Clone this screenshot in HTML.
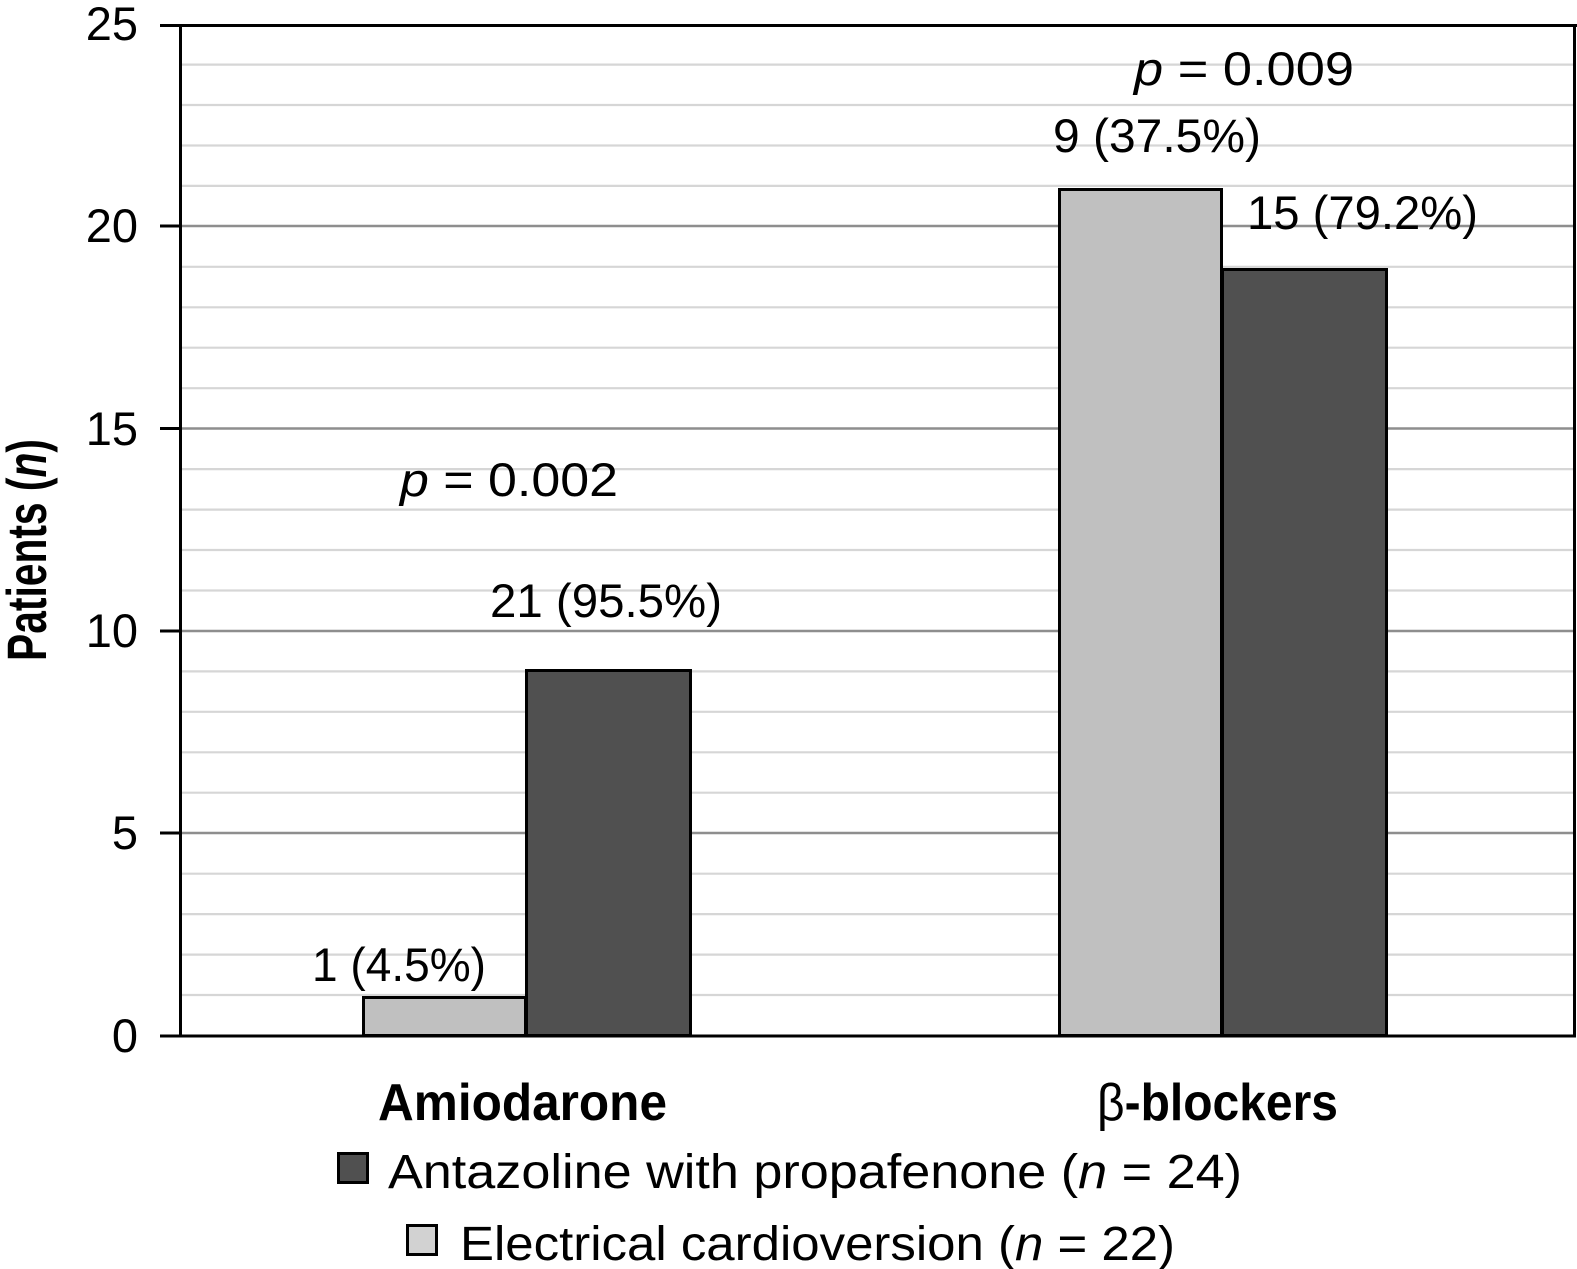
<!DOCTYPE html>
<html>
<head>
<meta charset="utf-8">
<style>
  html, body { margin: 0; padding: 0; background: #ffffff; }
  svg { display: block; }
  text { font-family: "Liberation Sans", "DejaVu Sans", sans-serif; fill: #000; }
</style>
</head>
<body>
<svg width="1577" height="1269" viewBox="0 0 1577 1269" xmlns="http://www.w3.org/2000/svg">
  <rect x="0" y="0" width="1577" height="1269" fill="#ffffff"/>

  <!-- minor gridlines (every 1 unit), y = 1035.5 - 40.46*v -->
  <g stroke="#d6d6d6" stroke-width="2.2">
    <line x1="181" x2="1573" y1="995.0" y2="995.0"/>
    <line x1="181" x2="1573" y1="954.6" y2="954.6"/>
    <line x1="181" x2="1573" y1="914.1" y2="914.1"/>
    <line x1="181" x2="1573" y1="873.7" y2="873.7"/>
    <line x1="181" x2="1573" y1="792.7" y2="792.7"/>
    <line x1="181" x2="1573" y1="752.3" y2="752.3"/>
    <line x1="181" x2="1573" y1="711.8" y2="711.8"/>
    <line x1="181" x2="1573" y1="671.4" y2="671.4"/>
    <line x1="181" x2="1573" y1="590.5" y2="590.5"/>
    <line x1="181" x2="1573" y1="550.0" y2="550.0"/>
    <line x1="181" x2="1573" y1="509.6" y2="509.6"/>
    <line x1="181" x2="1573" y1="469.1" y2="469.1"/>
    <line x1="181" x2="1573" y1="388.2" y2="388.2"/>
    <line x1="181" x2="1573" y1="347.7" y2="347.7"/>
    <line x1="181" x2="1573" y1="307.3" y2="307.3"/>
    <line x1="181" x2="1573" y1="266.8" y2="266.8"/>
    <line x1="181" x2="1573" y1="185.9" y2="185.9"/>
    <line x1="181" x2="1573" y1="145.5" y2="145.5"/>
    <line x1="181" x2="1573" y1="105.0" y2="105.0"/>
    <line x1="181" x2="1573" y1="64.6" y2="64.6"/>
  </g>
  <!-- major gridlines -->
  <g stroke="#8e8e8e" stroke-width="2.4">
    <line x1="181" x2="1573" y1="833" y2="833"/>
    <line x1="181" x2="1573" y1="631" y2="631"/>
    <line x1="181" x2="1573" y1="428.5" y2="428.5"/>
    <line x1="181" x2="1573" y1="226" y2="226"/>
  </g>

  <!-- bars -->
  <g stroke="#000" stroke-width="3">
    <rect x="363.5" y="997.5" width="162" height="38" fill="#c0c0c0"/>
    <rect x="526.5" y="670.5" width="164" height="365" fill="#505050"/>
    <rect x="1059.5" y="189.5" width="162" height="846" fill="#c0c0c0"/>
    <rect x="1222.5" y="269.5" width="164" height="766" fill="#505050"/>
  </g>

  <!-- axes / frame -->
  <g stroke="#000" stroke-width="3" fill="none">
    <line x1="160" x2="1577" y1="25.5" y2="25.5"/>
    <line x1="1574.5" x2="1574.5" y1="24" y2="1037"/>
    <line x1="180.5" x2="180.5" y1="24" y2="1037.5"/>
    <line x1="160" x2="1576" y1="1036" y2="1036"/>
    <line x1="160" x2="181" y1="833" y2="833"/>
    <line x1="160" x2="181" y1="631" y2="631"/>
    <line x1="160" x2="181" y1="428.5" y2="428.5"/>
    <line x1="160" x2="181" y1="226" y2="226"/>
  </g>

  <!-- tick labels -->
  <g font-size="47" text-anchor="end">
    <text x="138" y="40">25</text>
    <text x="138" y="242">20</text>
    <text x="138" y="445">15</text>
    <text x="138" y="647">10</text>
    <text x="138" y="849">5</text>
    <text x="138" y="1052">0</text>
  </g>

  <!-- y-axis title -->
  <text transform="translate(46,661) rotate(-90)" font-size="56" font-weight="bold" textLength="222" lengthAdjust="spacingAndGlyphs">Patients (<tspan font-style="italic">n</tspan>)</text>

  <!-- annotations -->
  <g font-size="47">
    <text x="1134" y="85" textLength="220" lengthAdjust="spacingAndGlyphs"><tspan font-style="italic">p</tspan> = 0.009</text>
    <text x="1053" y="152" textLength="208" lengthAdjust="spacingAndGlyphs">9 (37.5%)</text>
    <text x="1247" y="229" textLength="231" lengthAdjust="spacingAndGlyphs">15 (79.2%)</text>
    <text x="400" y="496" textLength="218" lengthAdjust="spacingAndGlyphs"><tspan font-style="italic">p</tspan> = 0.002</text>
    <text x="490" y="617" textLength="232" lengthAdjust="spacingAndGlyphs">21 (95.5%)</text>
    <text x="312" y="981" textLength="174" lengthAdjust="spacingAndGlyphs">1 (4.5%)</text>
  </g>

  <!-- category labels -->
  <g font-size="52" font-weight="bold">
    <text x="378" y="1120" textLength="289" lengthAdjust="spacingAndGlyphs">Amiodarone</text>
    <text x="1097" y="1120" textLength="241" lengthAdjust="spacingAndGlyphs"><tspan font-weight="normal">β</tspan>-blockers</text>
  </g>

  <!-- legend -->
  <rect x="338.5" y="1153.5" width="29" height="29" fill="#505050" stroke="#000" stroke-width="3"/>
  <text x="388" y="1188" font-size="48" textLength="854" lengthAdjust="spacingAndGlyphs">Antazoline with propafenone (<tspan font-style="italic">n</tspan> = 24)</text>
  <rect x="407.5" y="1225.5" width="29" height="29" fill="#d2d2d2" stroke="#000" stroke-width="3"/>
  <text x="460" y="1260" font-size="48" textLength="715" lengthAdjust="spacingAndGlyphs">Electrical cardioversion (<tspan font-style="italic">n</tspan> = 22)</text>
</svg>
</body>
</html>
